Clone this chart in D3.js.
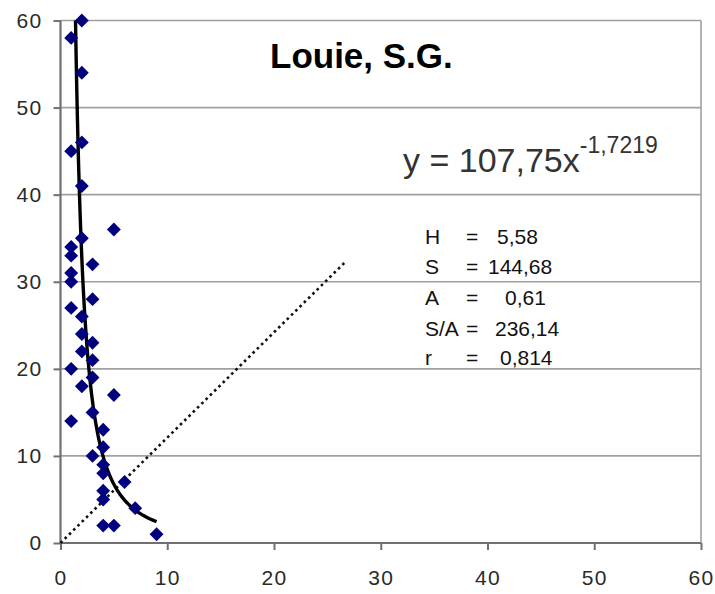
<!DOCTYPE html>
<html>
<head>
<meta charset="utf-8">
<script src="https://cdn.jsdelivr.net/npm/d3@7"></script>
<style>
  html, body { margin: 0; padding: 0; background: #fff; }
  svg { display: block; }
</style>
</head>
<body>
<svg id="chart" width="715" height="594"></svg>
<script>
// ---- data ----
const pointsX = [2, 1, 2, 2, 1, 2, 5, 2, 1, 1, 3, 1, 1, 3, 1, 2, 2, 3, 2, 3, 1, 3, 2, 5, 3, 1, 4, 4, 3, 4, 4, 6, 4, 4, 7, 4, 5, 9];
const pointsY = [60, 58, 54, 46, 45, 41, 36, 35, 34, 33, 32, 31, 30, 28, 27, 26, 24, 23, 22, 21, 20, 19, 18, 17, 15, 14, 13, 11, 10, 9, 8, 7, 6, 5, 4, 2, 2, 1];
const xTicks = [0, 10, 20, 30, 40, 50, 60];
const yTicks = [0, 10, 20, 30, 40, 50, 60];
const trendA = 107.75;          // power trend: y = a * x^b
const trendB = -1.7219;
const dottedX = [0, 26.7];
const dottedY = [0, 32.3];
const titleText = "Louie, S.G.";
const statLabels = ["H", "S", "A", "S/A", "r"];
const statValues = ["5,58", "144,68", "0,61", "236,14", "0,814"];

// ---- layout ----
const svg = d3.select("#chart");
const pL = 60.5, pR = 701, pT = 20.5, pB = 543;
const x = d3.scaleLinear().domain([0, 60]).range([pL, pR]);
const y = d3.scaleLinear().domain([0, 60]).range([pB, pT]);

const font = "'Liberation Sans', Arial, sans-serif";

// gridlines
svg.append("g").selectAll("line").data(yTicks.filter(d => d > 0)).join("line")
  .attr("x1", pL).attr("x2", pR)
  .attr("y1", d => y(d)).attr("y2", d => y(d))
  .attr("stroke", "#a0a0a0").attr("stroke-width", 1.6);

// right border
svg.append("line").attr("x1", pR).attr("x2", pR).attr("y1", pT).attr("y2", pB)
  .attr("stroke", "#a0a0a0").attr("stroke-width", 1.6);

// axes
const yAxis = d3.axisLeft(y).tickValues(yTicks).tickSize(7).tickPadding(11).tickFormat(d3.format("d"));
const xAxis = d3.axisBottom(x).tickValues(xTicks).tickSize(7).tickPadding(20).tickFormat(d3.format("d"));

const gy = svg.append("g").attr("transform", `translate(${pL},0)`).call(yAxis);
const gx = svg.append("g").attr("transform", `translate(0,${pB})`).call(xAxis);
[gx, gy].forEach(g => {
  g.select(".domain").attr("stroke", "#707070").attr("stroke-width", 2.2);
  g.selectAll(".tick line").attr("stroke", "#707070").attr("stroke-width", 2);
  g.selectAll(".tick text").attr("fill", "#2a2a2a").style("font-family", font).style("font-size", "21px")
    .attr("letter-spacing", "1.3px");
});
gx.select(".domain").attr("d", `M${pL},0H${pR}`);
gy.select(".domain").attr("d", `M0,${pB}V${pT}`);

// dotted line
const dotted = dottedX.map((d, i) => [d, dottedY[i]]);
svg.append("path")
  .attr("d", d3.line().x(d => x(d[0])).y(d => y(d[1]))(dotted))
  .attr("fill", "none").attr("stroke", "#111").attr("stroke-width", 2.6)
  .attr("stroke-dasharray", "2.6,3.4");

// trend line from the equation shown in the chart, over the data's x-range
const xMax = d3.max(pointsX);
const xStart = Math.pow(60 / trendA, 1 / trendB);
const trendPts = d3.range(0, 201).map(i => {
  const xv = xStart + (xMax - xStart) * i / 200;
  return [xv, trendA * Math.pow(xv, trendB)];
});
svg.append("path")
  .attr("d", d3.line().x(d => x(d[0])).y(d => y(d[1])).curve(d3.curveLinear)(trendPts))
  .attr("fill", "none").attr("stroke", "#000").attr("stroke-width", 3.4);

// points (square diamonds)
const pts = pointsX.map((d, i) => [d, pointsY[i]]);
svg.append("g").selectAll("path").data(pts).join("path")
  .attr("d", d3.symbol().type(d3.symbolSquare).size(96))
  .attr("transform", d => `translate(${x(d[0])},${y(d[1])}) rotate(45)`)
  .attr("fill", "#00007f");

// title
svg.append("text").attr("x", 270).attr("y", 68)
  .style("font-family", font).style("font-size", "35px").style("font-weight", "bold")
  .attr("fill", "#000").text(titleText);

// equation
const eq = svg.append("text").attr("x", 403).attr("y", 172)
  .style("font-family", font).style("font-size", "34px").attr("fill", "#333");
eq.append("tspan").text("y = 107,75x");
eq.append("tspan").attr("dy", -19).style("font-size", "23px").text("-1,7219");

// stats block
const statsG = svg.append("g").style("font-family", font).style("font-size", "21px").attr("fill", "#111");
const statBase = [244, 274, 305, 336, 365];
const valX = [497, 488, 505, 495, 500];
statLabels.forEach((lab, i) => {
  statsG.append("text").attr("x", 425).attr("y", statBase[i]).text(lab);
  statsG.append("text").attr("x", 466).attr("y", statBase[i]).text("=");
  statsG.append("text").attr("x", valX[i]).attr("y", statBase[i]).text(statValues[i]);
});
</script>
</body>
</html>
